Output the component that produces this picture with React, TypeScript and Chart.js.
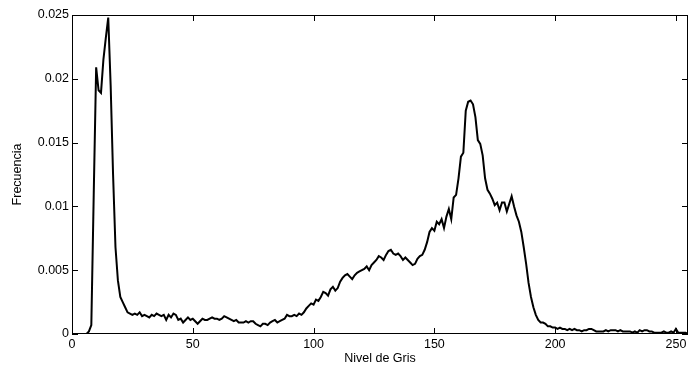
import React, { useEffect, useRef } from "react";
import { Chart, registerables } from "chart.js";

Chart.register(...registerables);

// Gray levels 0..255 (categories)
const grayLevels: number[] = Array.from({ length: 256 }, (_, i) => i);

// Frequency per gray level
const frequency: number[] = [
  // 0-9
  0, 0, 0, 0, 0, 0, 0, 0.0002, 0.0007, 0.011,
  // 10-19
  0.0209, 0.0191, 0.0189, 0.0215, 0.0232, 0.0248, 0.0195, 0.0125, 0.0068, 0.0042,
  // 20-29
  0.0029, 0.0025, 0.0021, 0.0017, 0.0016, 0.0015, 0.0016, 0.0015, 0.0017, 0.0014,
  // 30-39
  0.0015, 0.0014, 0.0013, 0.0015, 0.0014, 0.0016, 0.0015, 0.0014, 0.0015, 0.0011,
  // 40-49
  0.0015, 0.0013, 0.0016, 0.0015, 0.0011, 0.0012, 0.0009, 0.0011, 0.0013, 0.0011,
  // 50-59
  0.0012, 0.001, 0.0008, 0.001, 0.0012, 0.0011, 0.0011, 0.0012, 0.0013, 0.0012,
  // 60-69
  0.0012, 0.0011, 0.0012, 0.0014, 0.0013, 0.0012, 0.0011, 0.001, 0.0011, 0.0009,
  // 70-79
  0.0009, 0.0009, 0.001, 0.0009, 0.001, 0.001, 0.0008, 0.0007, 0.0006, 0.0008,
  // 80-89
  0.0008, 0.0007, 0.0009, 0.001, 0.0011, 0.0009, 0.001, 0.0011, 0.0012, 0.0015,
  // 90-99
  0.0014, 0.0014, 0.0015, 0.0014, 0.0016, 0.0015, 0.0017, 0.002, 0.0022, 0.0024,
  // 100-109
  0.0023, 0.0027, 0.0026, 0.0029, 0.0033, 0.0032, 0.003, 0.0035, 0.0037, 0.0034,
  // 110-119
  0.0036, 0.0041, 0.0044, 0.0046, 0.0047, 0.0045, 0.0043, 0.0046, 0.0048, 0.0049,
  // 120-129
  0.005, 0.0051, 0.0053, 0.005, 0.0054, 0.0056, 0.0058, 0.0061, 0.006, 0.0058,
  // 130-139
  0.0062, 0.0065, 0.0066, 0.0063, 0.0062, 0.0063, 0.0061, 0.0058, 0.006, 0.0058,
  // 140-149
  0.0056, 0.0054, 0.0055, 0.0059, 0.0061, 0.0062, 0.0066, 0.0072, 0.008, 0.0083,
  // 150-159
  0.0081, 0.0088, 0.0086, 0.009, 0.0083, 0.0092, 0.0098, 0.009, 0.0107, 0.0109,
  // 160-169
  0.0122, 0.0139, 0.0142, 0.0175, 0.0182, 0.0183, 0.018, 0.017, 0.0152, 0.0149,
  // 170-179
  0.014, 0.0122, 0.0113, 0.011, 0.0106, 0.0101, 0.0103, 0.0097, 0.0103, 0.0103,
  // 180-189
  0.0096, 0.0102, 0.0108, 0.01, 0.0093, 0.0088, 0.008, 0.0068, 0.0055, 0.004,
  // 190-199
  0.0029, 0.0021, 0.0015, 0.0011, 0.0009, 0.0009, 0.0008, 0.0006, 0.0006, 0.0005,
  // 200-209
  0.0005, 0.0004, 0.0005, 0.0004, 0.0004, 0.0003, 0.0004, 0.0003, 0.0004, 0.0003,
  // 210-219
  0.0003, 0.0002, 0.0003, 0.0003, 0.0004, 0.0004, 0.0003, 0.0002, 0.0002, 0.0002,
  // 220-229
  0.0002, 0.0003, 0.0002, 0.0003, 0.0003, 0.0003, 0.0002, 0.0003, 0.0002, 0.0002,
  // 230-239
  0.0002, 0.0002, 0.0001, 0.0002, 0.0001, 0.0003, 0.0002, 0.0003, 0.0003, 0.0002,
  // 240-249
  0.0002, 0.0001, 0.0001, 0.0001, 0.0001, 0.0002, 0.0001, 0.0001, 0.0002, 0.0001,
  // 250-255
  0.0004, 0.0001, 0.0001, 0.0001, 0.0001, 0,
];

const xTicks: number[] = [0, 50, 100, 150, 200, 250];
const yTicks: number[] = [0, 0.005, 0.01, 0.015, 0.02, 0.025];
const xTitle = "Nivel de Gris";
const yTitle = "Frecuencia";

const FONT = { family: "'Liberation Sans', Arial, Helvetica, sans-serif", size: 12.5 };

const framePlugin = {
  id: "matlabFrame",
  afterDraw(chart: any) {
    const { ctx, chartArea, scales } = chart;
    const { left, top, right, bottom } = chartArea;
    const x = scales.x;
    const y = scales.y;
    const len = 6;
    ctx.save();
    ctx.strokeStyle = "#000";
    ctx.lineWidth = 1;
    ctx.strokeRect(Math.round(left) + 0.5, Math.round(top) + 0.5, Math.round(right - left) - 1, Math.round(bottom - top) - 1);
    ctx.beginPath();
    for (const v of xTicks) {
      const px = Math.round(x.getPixelForValue(v)) + 0.5;
      ctx.moveTo(px, bottom);
      ctx.lineTo(px, bottom - len);
      ctx.moveTo(px, top);
      ctx.lineTo(px, top + len);
    }
    for (const v of yTicks) {
      const py = Math.round(y.getPixelForValue(v)) + 0.5;
      ctx.moveTo(left, py);
      ctx.lineTo(left + len, py);
      ctx.moveTo(right, py);
      ctx.lineTo(right - len, py);
    }
    ctx.stroke();
    ctx.restore();
  },
};

export default function App() {
  const canvasRef = useRef<HTMLCanvasElement | null>(null);

  useEffect(() => {
    if (!canvasRef.current) return;
    const chart = new Chart(canvasRef.current, {
      type: "line",
      data: {
        datasets: [
          {
            data: grayLevels.map((g, i) => ({ x: g, y: frequency[i] })),
            borderColor: "#000",
            borderWidth: 2,
            pointRadius: 0,
            tension: 0,
            fill: false,
          },
        ],
      },
      options: {
        responsive: false,
        animation: false,
        devicePixelRatio: 1,
        layout: { padding: { top: 15, right: 4, left: 0, bottom: 0 } },
        plugins: {
          legend: { display: false },
          tooltip: { enabled: false },
        },
        scales: {
          x: {
            type: "linear",
            min: 0,
            max: 255,
            afterBuildTicks: (s: any) => {
              s.ticks = xTicks.map((v) => ({ value: v }));
            },
            afterFit: (s: any) => {
              s.height = 34;
            },
            grid: { display: false, drawTicks: false },
            border: { display: false },
            ticks: {
              color: "#000",
              font: FONT,
              padding: 3,
              maxRotation: 0,
              autoSkip: false,
              callback: (v: any) => String(v),
            },
            title: {
              display: true,
              text: xTitle,
              color: "#000",
              font: FONT,
              padding: { top: 0, bottom: 2 },
            },
          },
          y: {
            type: "linear",
            min: 0,
            max: 0.025,
            afterBuildTicks: (s: any) => {
              s.ticks = yTicks.map((v) => ({ value: v }));
            },
            afterFit: (s: any) => {
              s.width = 72;
            },
            grid: { display: false, drawTicks: false },
            border: { display: false },
            ticks: {
              color: "#000",
              font: FONT,
              padding: 3,
              autoSkip: false,
              callback: (v: any) => String(Number(Number(v).toFixed(3))),
            },
            title: {
              display: true,
              text: yTitle,
              color: "#000",
              font: FONT,
              padding: { top: 10, bottom: 0 },
            },
          },
        },
      },
      plugins: [framePlugin],
    });
    return () => chart.destroy();
  }, []);

  return (
    <div style={{ position: "absolute", left: 0, top: 0, width: 692, height: 368, background: "#fff" }}>
      <canvas ref={canvasRef} width={692} height={368} style={{ display: "block" }} />
    </div>
  );
}
